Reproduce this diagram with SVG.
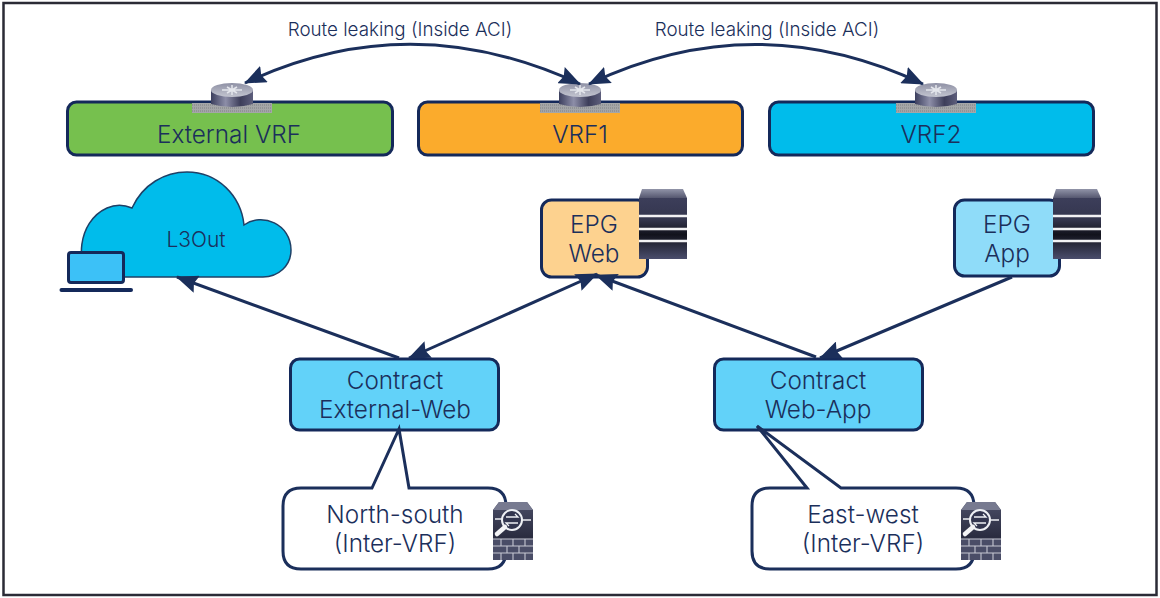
<svg xmlns="http://www.w3.org/2000/svg" width="1160" height="598" viewBox="0 0 1160 598">
<style>
text{font-family:"Inter","Open Sans","Liberation Sans",sans-serif;fill:#1b2f5b;text-anchor:middle;font-weight:300}
.t24{font-size:24.3px}.t19{font-size:18.800px}.t21{font-size:21px}
.box{stroke:#14295a;stroke-width:3}
.conn{fill:none;stroke:#1b2f5b;stroke-width:3}
.call{fill:#fff;stroke:#1b2f5b;stroke-width:3;stroke-linejoin:miter}
</style>
<defs>
<marker id="ah" markerUnits="userSpaceOnUse" markerWidth="22" markerHeight="18" refX="21" refY="9" orient="auto-start-reverse"><path d="M0 0L22 9L0 18L3 9Z" fill="#1b2f5b"/></marker>
<linearGradient id="cyl" x1="0" x2="1" y1="0" y2="0"><stop offset="0" stop-color="#3c3f5e"/><stop offset=".35" stop-color="#8d8ea8"/><stop offset=".7" stop-color="#3d3e5a"/><stop offset="1" stop-color="#5d5e7c"/></linearGradient>
<linearGradient id="top" x1="0" x2="0" y1="0" y2="1"><stop offset="0" stop-color="#8f91a5"/><stop offset="1" stop-color="#c3c5d0"/></linearGradient>
<linearGradient id="srv" x1="0" x2="0" y1="0" y2="1"><stop offset="0" stop-color="#3c3e5a"/><stop offset=".35" stop-color="#34364e"/><stop offset=".6" stop-color="#12131c"/><stop offset="1" stop-color="#4a4d6c"/></linearGradient>
<linearGradient id="srvt" x1="0" x2="0" y1="0" y2="1"><stop offset="0" stop-color="#9194a8"/><stop offset="1" stop-color="#55576f"/></linearGradient>
<linearGradient id="fwb" x1="0" x2="0" y1="0" y2="1"><stop offset="0" stop-color="#4a4d66"/><stop offset=".6" stop-color="#2a2c40"/><stop offset="1" stop-color="#4f526c"/></linearGradient>
<g id="router">
<rect x="-40" y="11" width="80" height="10" fill="#a4a6a8"/>
<path d="M-40 13h80M-40 16h80M-40 19h80" stroke="#77797c" stroke-width=".8" stroke-dasharray="1 1"/>
<path d="M-21-2V12Q0 18 21 12V-2Z" fill="url(#cyl)"/>
<ellipse cx="0" cy="-2" rx="21" ry="7" fill="url(#top)"/>
<path d="M-10-2h20M0-7V3M-5-5L5 1M5-5L-5 1" stroke="#e4e6ec" stroke-width="1.500"/>
</g>
<g id="server">
<path d="M2 9H48V70H0V9Z" fill="url(#srv)"/>
<path d="M3 0H44L48 9H0Z" fill="url(#srvt)"/>
<path d="M0 27H48M0 40H48M0 52H48" stroke="#f2f2f4" stroke-width="2.600"/>
</g>
<g id="fw">
<path d="M6 0H34L40 8V58H0V8Z" fill="url(#fwb)"/>
<path d="M6 0H34L40 8H0Z" fill="#777a90"/>
<path d="M0 37H40V58H0Z" fill="#4a4d67"/>
<path d="M0 37H40M0 44H40M0 51H40M8 37v7M20 37v7M32 37v7M14 44v7M26 44v7M8 51v7M20 51v7M32 51v7" stroke="#c5c7d2" stroke-width="1.100" fill="none"/>
<circle cx="19" cy="18" r="10" fill="#32354e" stroke="#eef0f4" stroke-width="2"/>
<path d="M13 15h12l-3-3M25 21H13l3 3M2 17h7M29 18h9" stroke="#eef0f4" stroke-width="1.300" fill="none"/>
<path d="M4 32L12 25" stroke="#f4f4f6" stroke-width="4.500" stroke-linecap="round"/>
</g>
</defs>
<rect width="1160" height="598" fill="#fff"/>
<rect x="3.500" y="3" width="1153" height="592" fill="none" stroke="#2b2b36" stroke-width="2.500"/>

<g id="external-vrf"><rect class="box" x="67.500" y="102" width="325" height="53" rx="9" fill="#76c04e"/><use href="#router" x="232" y="92"/><text class="t24" x="229" y="143">External VRF</text></g>
<g id="vrf1"><rect class="box" x="418.500" y="102" width="324" height="53" rx="9" fill="#fbab2c"/><use href="#router" x="580" y="92"/><text class="t24" x="580" y="143">VRF1</text></g>
<g id="vrf2"><rect class="box" x="769.500" y="102" width="324" height="53" rx="9" fill="#00bceb"/><use href="#router" x="936" y="92"/><text class="t24" x="931" y="143">VRF2</text></g>

<g id="l3out">
<path d="M92 277C76 268 76 222 107 208C116 204 125 205 132 208C143 184 165 172 187 172C218 172 241 196 244 225C262 212 291 224 291 250C291 266 278 277 263 277Z" fill="#00bceb" stroke="#1f4066" stroke-width="1.500"/>
<rect x="68.500" y="252.500" width="55" height="30" rx="2.500" fill="#3cc1f7" stroke="#14295a" stroke-width="3"/>
<path d="M61.500 290H131" stroke="#14295a" stroke-width="4" stroke-linecap="round"/>
<text class="t21" x="196" y="247">L3Out</text>
</g>
<g id="epg-web"><rect class="box" x="541.500" y="200" width="106" height="77" rx="10" fill="#fdd28f"/><use href="#server" x="639" y="189"/><text class="t24" x="594" y="233">EPG</text><text class="t24" x="594" y="262">Web</text></g>
<g id="epg-app"><rect class="box" x="954.500" y="200" width="105" height="76" rx="10" fill="#8fdcf9"/><use href="#server" x="1053" y="189"/><text class="t24" x="1007" y="233">EPG</text><text class="t24" x="1007" y="262">App</text></g>
<g id="contract-external-web"><rect class="box" x="290.500" y="359" width="208" height="71" rx="9" fill="#62d2f9"/><text class="t24" x="395" y="389">Contract</text><text class="t24" x="395" y="418">External-Web</text></g>
<g id="contract-web-app"><rect class="box" x="714.500" y="359" width="208" height="71" rx="9" fill="#62d2f9"/><text class="t24" x="818" y="389">Contract</text><text class="t24" x="818" y="418">Web-App</text></g>

<g id="connectors">
<path class="conn" d="M580 84Q410 5 245 83" marker-start="url(#ah)" marker-end="url(#ah)"/>
<path class="conn" d="M589 84Q755 5 923 84" marker-start="url(#ah)" marker-end="url(#ah)"/>
<path class="conn" d="M399 358L177 277" marker-end="url(#ah)"/>
<path class="conn" d="M409 358L597 274" marker-start="url(#ah)" marker-end="url(#ah)"/>
<path class="conn" d="M816 357L596 275" marker-end="url(#ah)"/>
<path class="conn" d="M1012 277L820 358" marker-end="url(#ah)"/>
</g>

<g id="north-south"><path class="call" d="M372 488L399 429L409 488H488Q506 488 506 506V551Q506 569 488 569H301Q283 569 283 551V506Q283 488 301 488Z"/><use href="#fw" x="493" y="502"/><text class="t24" x="395" y="523">North-south</text><text class="t24" x="395" y="552">(Inter-VRF)</text></g>
<g id="east-west"><path class="call" d="M807 488L757 426L841 488H956Q974 488 974 506V551Q974 569 956 569H770Q752 569 752 551V506Q752 488 770 488Z"/><use href="#fw" x="961" y="502"/><text class="t24" x="863" y="523">East-west</text><text class="t24" x="863" y="552">(Inter-VRF)</text></g>

<text class="t19" x="400" y="36">Route leaking (Inside ACI)</text>
<text class="t19" x="767" y="36">Route leaking (Inside ACI)</text>
</svg>
